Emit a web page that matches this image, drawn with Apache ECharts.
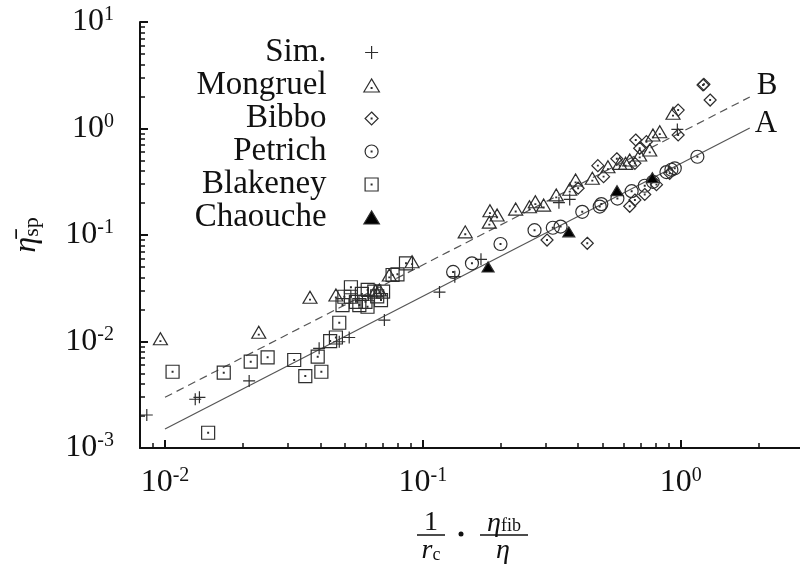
<!DOCTYPE html>
<html><head><meta charset="utf-8">
<script src="https://cdn.jsdelivr.net/npm/echarts@6/dist/echarts.min.js"></script>
<style>html,body{margin:0;padding:0;background:#fff}#c{width:800px;height:566px}</style>
</head><body><div id="c"></div>
<script>
// ---------- data (x = (1/r_c)·(eta_fib/eta), y = mean eta_sp) ----------
const simPts = [[0.0085,0.00204],[0.0131,0.00287],[0.0136,0.00299],[0.0212,0.00426],[0.0396,0.00863],[0.0474,0.00995],[0.0518,0.0109],[0.0709,0.0159],[0.116,0.0291],[0.133,0.0406],[0.168,0.0591],[0.337,0.201],[0.371,0.216],[0.97,0.98]];
const mongruelPts = [[0.0096,0.0106],[0.0231,0.0122],[0.0365,0.026],[0.046,0.0273],[0.0655,0.0300],[0.0678,0.0305],[0.0741,0.0421],[0.0908,0.0561],[0.146,0.107],[0.181,0.132],[0.182,0.169],[0.194,0.154],[0.229,0.175],[0.259,0.184],[0.273,0.205],[0.294,0.191],[0.329,0.238],[0.371,0.269],[0.391,0.328],[0.454,0.341],[0.522,0.438],[0.580,0.471],[0.611,0.471],[0.634,0.506],[0.693,0.564],[0.758,0.629],[0.78,0.869],[0.829,0.933],[0.933,1.39]];
const bibboPts = [[0.303,0.0897],[0.434,0.0836],[0.400,0.275],[0.477,0.448],[0.502,0.353],[0.565,0.52],[0.634,0.186],[0.664,0.213],[0.725,0.240],[0.805,0.297],[0.906,0.379],[0.664,0.471],[0.669,0.780],[0.736,0.752],[0.693,0.652],[0.977,1.49],[0.977,0.869],[1.22,2.56],[1.23,2.6],[1.30,1.85]];
const petrichPts = [[0.131,0.045],[0.155,0.0542],[0.2,0.0823],[0.271,0.111],[0.319,0.117],[0.342,0.120],[0.415,0.165],[0.485,0.185],[0.492,0.195],[0.568,0.22],[0.645,0.258],[0.725,0.29],[0.780,0.316],[0.88,0.39],[0.920,0.41],[0.948,0.423],[1.16,0.543]];
const blakeneyPts = [[0.0107,0.0052],[0.0147,0.00139],[0.0169,0.0051],[0.0215,0.00646],[0.025,0.00711],[0.0317,0.0067],[0.035,0.00474],[0.0391,0.0072],[0.0404,0.0052],[0.0437,0.0101],[0.046,0.0109],[0.0474,0.015],[0.0488,0.022],[0.0496,0.0263],[0.0526,0.0323],[0.0526,0.0263],[0.055,0.0236],[0.0567,0.022],[0.058,0.028],[0.0599,0.0236],[0.061,0.0212],[0.0611,0.0305],[0.0648,0.0294],[0.0665,0.0265],[0.0688,0.0245],[0.0701,0.0294],[0.0763,0.0421],[0.0797,0.0427],[0.086,0.0542]];
const chaouchePts = [[0.179,0.050],[0.368,0.107],[0.566,0.261],[0.776,0.345]];
const lineA = [[0.01,0.00151],[1.852,1.01]];
const lineB = [[0.01,0.00299],[1.852,1.976]];
const seriesNames = ['Sim.','Mongruel','Bibbo','Petrich','Blakeney','Chaouche'];
const xMajorTicks = [0.01,0.1,1];
const xMinorTicks = [0.009,0.02,0.03,0.04,0.05,0.06,0.07,0.08,0.09,0.2,0.3,0.4,0.5,0.6,0.7,0.8,0.9,2];
const yMajorTicks = [0.001,0.01,0.1,1,10];
const yMinorTicks = [0.002,0.003,0.004,0.005,0.006,0.007,0.008,0.009,0.02,0.03,0.04,0.05,0.06,0.07,0.08,0.09,0.2,0.3,0.4,0.5,0.6,0.7,0.8,0.9,2,3,4,5,6,7,8,9];

// ---------- styling ----------
const FONT = '"Liberation Serif","Times New Roman",serif';
const INK = '#2e2e2e';
const TXT = '#111';
const SYM = {
  plus: 'path://M0,5L10,5M5,0L5,10',
  tri: 'path://M0,10L6,0L12,10Z M5.7,6.7L6.3,6.7L6.3,7.3L5.7,7.3Z',
  diamond: 'path://M5,0L10,5L5,10L0,5Z M4.7,4.7L5.3,4.7L5.3,5.3L4.7,5.3Z',
  circle: 'path://M0,5A5,5,0,1,1,10,5A5,5,0,1,1,0,5Z M4.7,4.7L5.3,4.7L5.3,5.3L4.7,5.3Z',
  square: 'path://M0,0L10,0L10,10L0,10Z M4.7,4.7L5.3,4.7L5.3,5.3L4.7,5.3Z',
  ftri: 'path://M0,10L6,0L12,10Z'
};
function scatter(name, data, symbol, size, fill) {
  return {
    name, type: 'scatter', data, symbol, symbolSize: size,
    itemStyle: { color: fill || 'rgba(0,0,0,0)', borderColor: INK, borderWidth: 1.2, opacity: 1 },
    emphasis: { disabled: true }, silent: true, z: 3
  };
}
function powLabel(v) {
  const e = Math.round(Math.log10(v));
  return '{b|10}{s|' + e + '}';
}
const labelRich = {
  b: { fontFamily: FONT, fontSize: 32, color: TXT },
  s: { fontFamily: FONT, fontSize: 20, color: TXT, padding: [0, 0, 14, 0] }
};
const XMIN = 0.008, XMAX = 2.9, YMIN = 0.001, YMAX = 10;

const option = {
  animation: false,
  backgroundColor: '#fff',
  grid: { left: 140, top: 22, right: 0, bottom: 118 },
  xAxis: [
    { type: 'log', min: XMIN, max: XMAX, position: 'bottom',
      axisLine: { show: true, onZero: false, lineStyle: { color: TXT, width: 2 } },
      axisTick: { show: true, inside: true, length: 8, customValues: xMajorTicks, lineStyle: { color: TXT, width: 2 } },
      axisLabel: { customValues: xMajorTicks, formatter: powLabel, margin: 18, rich: labelRich },
      splitLine: { show: false } },
    { type: 'log', min: XMIN, max: XMAX, position: 'bottom',
      axisLine: { show: false, onZero: false },
      axisTick: { show: true, inside: true, length: 5, customValues: xMinorTicks, lineStyle: { color: TXT, width: 1.5 } },
      axisLabel: { show: false }, splitLine: { show: false } }
  ],
  yAxis: [
    { type: 'log', min: YMIN, max: YMAX, position: 'left',
      axisLine: { show: true, onZero: false, lineStyle: { color: TXT, width: 2 } },
      axisTick: { show: true, inside: true, length: 8, customValues: yMajorTicks, lineStyle: { color: TXT, width: 2 } },
      axisLabel: { customValues: yMajorTicks, formatter: powLabel, margin: 26, rich: labelRich },
      splitLine: { show: false },
      name: '{e|η̄}{s|sp}', nameLocation: 'middle', nameRotate: 90, nameGap: 97,
      nameTextStyle: { rich: {
        e: { fontFamily: FONT, fontStyle: 'italic', fontSize: 32, color: TXT },
        s: { fontFamily: FONT, fontSize: 22, color: TXT, padding: [10, 0, 0, 0] } } } },
    { type: 'log', min: YMIN, max: YMAX, position: 'left',
      axisLine: { show: false, onZero: false },
      axisTick: { show: true, inside: true, length: 5, customValues: yMinorTicks, lineStyle: { color: TXT, width: 1.5 } },
      axisLabel: { show: false }, splitLine: { show: false } }
  ],
  legend: {
    data: seriesNames, orient: 'vertical', align: 'right', right: 420, top: 36, padding: 0,
    itemWidth: 80, itemHeight: 13, itemGap: 0, selectedMode: false,
    textStyle: { fontFamily: FONT, fontSize: 33, color: TXT, lineHeight: 33 },
    itemStyle: { borderWidth: 1.2 }
  },
  series: [
    { name: 'lineA', type: 'line', data: lineA, symbol: 'none', silent: true, z: 2,
      lineStyle: { color: '#555', width: 1.2 },
      endLabel: { show: true, formatter: 'A', fontFamily: FONT, fontSize: 31, color: TXT, distance: 5, offset: [0, -4] } },
    { name: 'lineB', type: 'line', data: lineB, symbol: 'none', silent: true, z: 2,
      lineStyle: { color: '#555', width: 1.2, type: [8, 5] },
      endLabel: { show: true, formatter: 'B', fontFamily: FONT, fontSize: 31, color: TXT, distance: 7, offset: [0, -11] } },
    scatter('Sim.', simPts, SYM.plus, 12),
    scatter('Mongruel', mongruelPts, SYM.tri, [14, 12]),
    scatter('Bibbo', bibboPts, SYM.diamond, 12),
    scatter('Petrich', petrichPts, SYM.circle, 13),
    scatter('Blakeney', blakeneyPts, SYM.square, 13),
    scatter('Chaouche', chaouchePts, SYM.ftri, [12, 10], '#000')
  ],
  graphic: [
    { type: 'text', x: 431, y: 523, style: { text: '1', font: '28px ' + FONT, fill: TXT, align: 'center', verticalAlign: 'middle' } },
    { type: 'line', shape: { x1: 417, y1: 535, x2: 445, y2: 535 }, style: { stroke: TXT, lineWidth: 1.5 } },
    { type: 'text', x: 431, y: 551, style: { text: '{i|r}{s|c}', align: 'center', verticalAlign: 'middle', rich: {
        i: { fontFamily: FONT, fontStyle: 'italic', fontSize: 28, fill: TXT },
        s: { fontFamily: FONT, fontSize: 18, fill: TXT, padding: [8, 0, 0, 0] } } } },
    { type: 'circle', shape: { cx: 461, cy: 534, r: 2.5 }, style: { fill: TXT } },
    { type: 'text', x: 504, y: 524, style: { text: '{i|η}{s|fib}', align: 'center', verticalAlign: 'middle', rich: {
        i: { fontFamily: FONT, fontStyle: 'italic', fontSize: 28, fill: TXT },
        s: { fontFamily: FONT, fontSize: 18, fill: TXT, padding: [4, 0, 0, 0] } } } },
    { type: 'line', shape: { x1: 480, y1: 535, x2: 528, y2: 535 }, style: { stroke: TXT, lineWidth: 1.5 } },
    { type: 'text', x: 503, y: 551, style: { text: 'η', font: 'italic 28px ' + FONT, fill: TXT, align: 'center', verticalAlign: 'middle' } }
  ]
};
const chart = echarts.init(document.getElementById('c'), null, { renderer: 'canvas' });
chart.setOption(option);
</script>
</body></html>
